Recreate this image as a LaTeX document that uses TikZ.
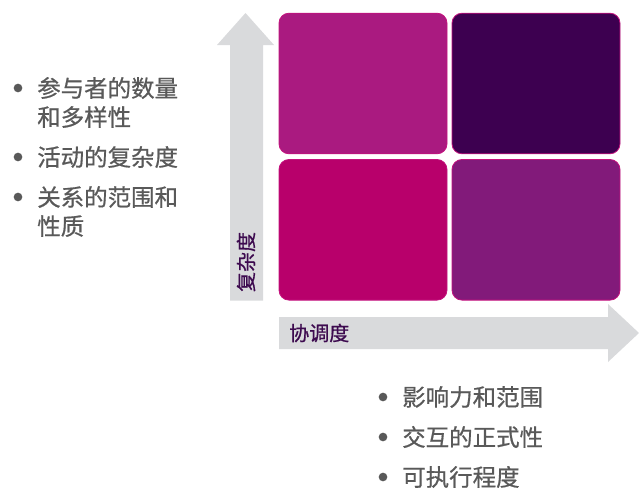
\documentclass[tikz,border=0pt]{standalone}
\usepackage{fontspec}
\setmainfont{Noto Sans CJK SC}
\newfontfamily\cjkmed[FakeBold=0.7]{Noto Sans CJK SC}
\definecolor{arrowgrey}{HTML}{D9DADC}
\definecolor{txtgrey}{HTML}{595959}
\definecolor{axispurple}{HTML}{3D0A4F}
\definecolor{cTL}{HTML}{AA1A80}
\definecolor{cTR}{HTML}{3D0050}
\definecolor{cBL}{HTML}{B8006B}
\definecolor{cBR}{HTML}{821A7A}
\definecolor{edgemag}{HTML}{C4127E}
\begin{document}
\begin{tikzpicture}[x=0.75pt,y=-0.75pt,
  quad/.style={draw=edgemag,line width=0.6pt,rounded corners=7.5pt,minimum width=126pt,minimum height=105.5pt,inner sep=0pt},
  bullettext/.style={anchor=west,align=left,inner sep=0pt,text=txtgrey,font=\cjkmed\fontsize{17.6}{21.75}\selectfont},
  dot/.style={circle,fill=txtgrey,inner sep=0pt,minimum size=6.5pt},
  axislabel/.style={text=axispurple,font=\cjkmed\fontsize{15}{16}\selectfont,inner sep=0pt}]
\useasboundingbox (0,0) rectangle (639,489);
% axes arrows
\fill[arrowgrey] (230,300.7) -- (230,45) -- (217,45) -- (245.5,13) -- (274,45) -- (263,45) -- (263,300.7) -- cycle;
\fill[arrowgrey] (279,317) -- (608,317) -- (608,304) -- (639,333) -- (608,362) -- (608,349) -- (279,349) -- cycle;
% quadrants
\node[quad,fill=cTL] (tl) at (363,83.5) {};
\node[quad,fill=cTR] (tr) at (536,83.5) {};
\node[quad,fill=cBL] (bl) at (363,229.8) {};
\node[quad,fill=cBR] (br) at (536,229.8) {};
% axis labels
\node[axislabel,rotate=90] (ylab) at (246,262) {复杂度};
\node[axislabel,anchor=west] (xlab) at (289,333) {协调度};
% left bullets
\node[dot] (d1) at (18,88) {};
\node[bullettext] (t1) at (37,102.5) {参与者的数量\\和多样性};
\node[dot] (d2) at (18,157) {};
\node[bullettext] (t2) at (37,157) {活动的复杂度};
\node[dot] (d3) at (18,197) {};
\node[bullettext] (t3) at (37,211.5) {关系的范围和\\性质};
% bottom bullets
\node[dot] (d4) at (383,397) {};
\node[bullettext] (t4) at (402,397) {影响力和范围};
\node[dot] (d5) at (383,437) {};
\node[bullettext] (t5) at (402,437) {交互的正式性};
\node[dot] (d6) at (383,477) {};
\node[bullettext] (t6) at (402,477) {可执行程度};
\end{tikzpicture}
\end{document}
